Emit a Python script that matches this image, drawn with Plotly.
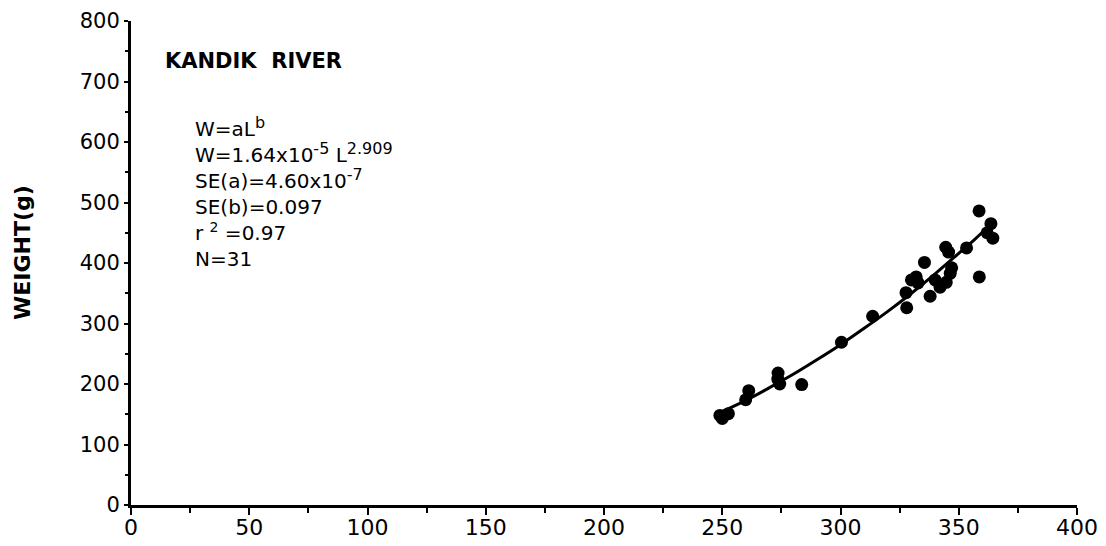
import plotly.graph_objects as go

# ---- data ----
length_mm = [250.0, 252.6, 249.0, 259.9, 261.2, 273.6, 274.3, 273.5, 283.6, 300.4,
             313.6, 327.7, 328.0, 332.0, 332.8, 330.0, 335.5, 337.9, 342.1, 344.7,
             346.4, 340.0, 344.5, 345.7, 353.3, 358.6, 363.6, 364.4, 358.7, 347.0,
             362.0]
weight_g = [143, 151, 148, 174, 189, 218, 200, 208, 199, 269,
            312, 351, 326, 377, 367, 372, 401, 345, 360, 368,
            383, 372, 426, 418, 425, 486, 465, 441, 377, 392,
            450]

# fitted curve as drawn in the picture
curve_len = [248, 260, 270, 280, 290, 300, 310, 320, 330, 340, 350, 357, 363]
curve_wt = [151, 173, 194, 216, 240, 265, 292, 320, 350, 382, 416, 440, 462]

x_ticks = [0, 50, 100, 150, 200, 250, 300, 350, 400]
y_ticks = [0, 100, 200, 300, 400, 500, 600, 700, 800]

# ---- layout geometry (pixels) ----
W, H = 1106, 546
L_, R_, T_, B_ = 131, 29, 21, 41
PW, PH = W - L_ - R_, H - T_ - B_


def px(xp):
    return (xp - L_) / PW


def py(yp):
    return (H - B_ - yp) / PH


FONT = "DejaVu Sans, Verdana, sans-serif"
SUP = '<sup><span style="font-size:16px">{}</span></sup>'
SUP_SMALL = '<sup><span style="font-size:14px">{}</span></sup>'

fig = go.Figure()
fig.add_trace(go.Scatter(x=curve_len, y=curve_wt, mode="lines",
                         line=dict(color="black", width=3, shape="spline"),
                         showlegend=False, hoverinfo="skip"))
fig.add_trace(go.Scatter(x=length_mm, y=weight_g, mode="markers",
                         marker=dict(color="black", size=13, line=dict(width=0)),
                         showlegend=False))

fig.update_xaxes(range=[0, 400], tickvals=x_ticks, ticktext=[str(v) for v in x_ticks],
                 showline=True, linecolor="black", linewidth=3, showgrid=False,
                 zeroline=False, ticks="outside", ticklen=7, tickwidth=2, tickcolor="black",
                 minor=dict(dtick=25, tick0=0, ticks="outside", ticklen=5, tickwidth=2,
                            tickcolor="black", showgrid=False),
                 ticklabelstandoff=-6, automargin=False,
                 tickfont=dict(family=FONT, size=22, color="black"))
fig.update_yaxes(range=[0, 800], tickvals=y_ticks, ticktext=[str(v) for v in y_ticks],
                 showline=True, linecolor="black", linewidth=3, showgrid=False,
                 zeroline=False, ticks="outside", ticklen=4, tickwidth=2, tickcolor="black",
                 minor=dict(dtick=50, tick0=0, ticks="outside", ticklen=3, tickwidth=2,
                            tickcolor="black", showgrid=False),
                 automargin=False,
                 tickfont=dict(family=FONT, size=21, color="black"))

annotations = [
    dict(text="<b>KANDIK  RIVER</b>", x=px(163), y=py(61), xref="paper", yref="paper",
         xanchor="left", yanchor="middle", showarrow=False,
         font=dict(family=FONT, size=21, color="black")),
    dict(text=("W=aL" + SUP.format("b") + "<br>"
               "W=1.64x10" + SUP.format("-5") + " L" + SUP.format("2.909") + "<br>"
               "SE(a)=4.60x10" + SUP.format("-7") + "<br>"
               "SE(b)=0.097<br>"
               "r " + SUP_SMALL.format("2") + " =0.97<br>"
               "N=31"),
         x=px(193), y=py(192), xref="paper", yref="paper", align="left",
         xanchor="left", yanchor="middle", showarrow=False,
         font=dict(family=FONT, size=20, color="black")),
    dict(text="<b>WEIGHT(g)</b>", x=px(23), y=py(253), xref="paper", yref="paper",
         xanchor="center", yanchor="middle", textangle=-90, showarrow=False,
         font=dict(family=FONT, size=22, color="black")),
]

fig.update_layout(width=W, height=H, margin=dict(l=L_, r=R_, t=T_, b=B_),
                  plot_bgcolor="white", paper_bgcolor="white",
                  annotations=annotations, showlegend=False)

fig.write_html("out.html")
